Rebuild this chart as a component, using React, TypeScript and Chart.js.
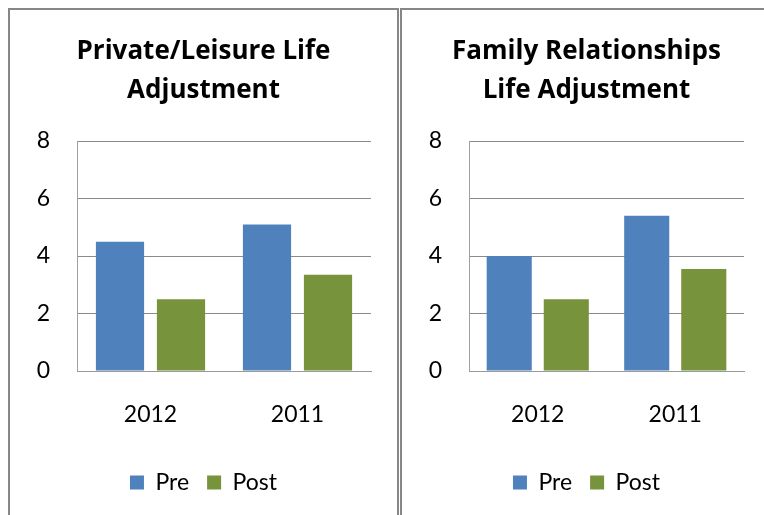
import React, { useEffect, useRef } from "react";
import { Chart, registerables } from "chart.js";

Chart.register(...registerables);

// ---- data ----
const categories = ["2012", "2011"];
const seriesNames = ["Pre", "Post"];
const leisureTitle = ["Private/Leisure Life", "Adjustment"];
const leisurePre = [4.5, 5.1];
const leisurePost = [2.5, 3.35];
const familyTitle = ["Family Relationships", "Life Adjustment"];
const familyPre = [4.0, 5.4];
const familyPost = [2.5, 3.55];
const yMin = 0;
const yMax = 8;
const yStep = 2;

const PRE_COLOR = "#4F81BD";
const POST_COLOR = "#77933C";
const FONT = 'Lato, "Open Sans", sans-serif';
const TITLE_FONT = '"Open Sans", Lato, sans-serif';

type PanelProps = {
  title: string[];
  pre: number[];
  post: number[];
  width: number;
  rightPad: number;
};

function ChartPanel({ title, pre, post, width, rightPad }: PanelProps) {
  const ref = useRef<HTMLCanvasElement | null>(null);
  useEffect(() => {
    if (!ref.current) return;
    const chart = new Chart(ref.current, {
      type: "bar",
      data: {
        labels: categories,
        datasets: [
          {
            label: seriesNames[0],
            data: pre,
            backgroundColor: PRE_COLOR,
            categoryPercentage: 0.83,
            barPercentage: 0.79,
          },
          {
            label: seriesNames[1],
            data: post,
            backgroundColor: POST_COLOR,
            categoryPercentage: 0.83,
            barPercentage: 0.79,
          },
        ],
      },
      options: {
        animation: false,
        responsive: false,
        devicePixelRatio: 1,
        layout: { padding: { left: 0, right: 0, top: 0, bottom: 11 } },
        plugins: {
          title: {
            display: true,
            text: title,
            color: "#000",
            font: { family: TITLE_FONT, size: 26, weight: "bold", lineHeight: "39px" },
            padding: { top: 22, bottom: 31 },
          },
          legend: {
            display: true,
            position: "bottom",
            labels: {
              boxWidth: 14,
              boxHeight: 14,
              padding: 18,
              color: "#000",
              font: { family: FONT, size: 23 },
            },
          },
          tooltip: { enabled: false },
        },
        scales: {
          x: {
            grid: { display: false, drawTicks: false },
            border: { display: true, color: "#9a9a9a" },
            ticks: { color: "#000", font: { family: FONT, size: 23 }, padding: 30 },
            afterFit: (scale: any) => {
              scale.height = 82;
            },
          },
          y: {
            min: yMin,
            max: yMax,
            grid: { color: "#8a8a8a", drawTicks: false },
            border: { display: true, color: "#a0a0a0" },
            ticks: {
              stepSize: yStep,
              color: "#000",
              font: { family: FONT, size: 23 },
              padding: 27,
            },
            afterFit: (scale: any) => {
              scale.width = 67;
            },
          },
          spacer: {
            type: "linear",
            position: "right",
            display: true,
            grid: { display: false, drawTicks: false },
            border: { display: false },
            ticks: { display: false },
            afterFit: (scale: any) => {
              scale.width = rightPad;
            },
          },
        },
      },
    });
    return () => chart.destroy();
  }, [title, pre, post, width, rightPad]);
  return <canvas ref={ref} width={width} height={505} style={{ display: "block" }} />;
}

export default function App() {
  const panelStyle: React.CSSProperties = {
    position: "absolute",
    top: 8,
    height: 560,
    border: "2px solid #878787",
    boxSizing: "border-box",
    background: "#fff",
  };
  return (
    <div
      style={{
        position: "fixed",
        left: 0,
        top: 0,
        width: 764,
        height: 515,
        overflow: "hidden",
        background: "#fff",
      }}
    >
      <div style={{ ...panelStyle, left: 8, width: 391 }}>
        <ChartPanel title={leisureTitle} pre={leisurePre} post={leisurePost} width={387} rightPad={26} />
      </div>
      <div style={{ ...panelStyle, left: 400, width: 373 }}>
        <ChartPanel title={familyTitle} pre={familyPre} post={familyPost} width={369} rightPad={27} />
      </div>
    </div>
  );
}
